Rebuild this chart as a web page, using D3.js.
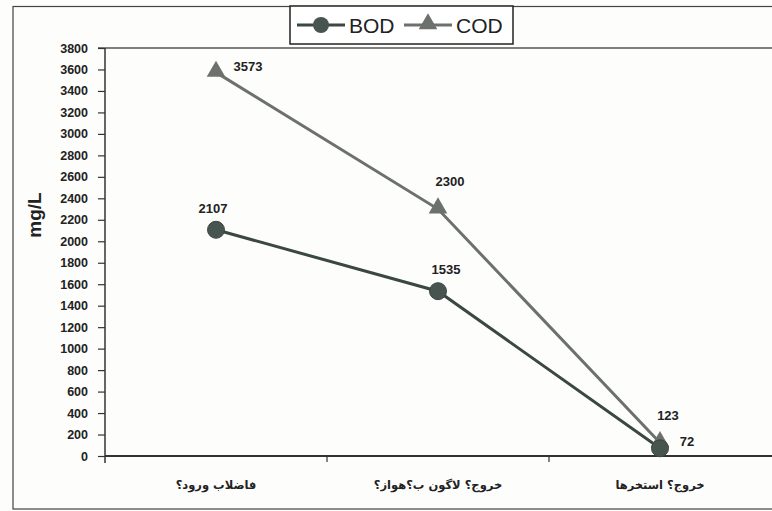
<!DOCTYPE html>
<html><head><meta charset="utf-8">
<script src="https://cdn.jsdelivr.net/npm/d3@7"></script>
<style>
html,body{margin:0;padding:0;background:#fff;}
svg{display:block;}
text{font-family:"Liberation Sans",Arial,"DejaVu Sans",sans-serif;}
</style></head><body>
<script>
const categories = ["فاضلاب ورود؟", "خروج؟ لاگون ب؟هواز؟", "خروج؟ استخرها"];
const bodValues = [2107, 1535, 72];
const codValues = [3573, 2300, 123];
const yTicks = [0,200,400,600,800,1000,1200,1400,1600,1800,2000,2200,2400,2600,2800,3000,3200,3400,3600,3800];
const seriesNames = ["BOD", "COD"];

const W = 772, H = 511;
const svg = d3.select("body").append("svg").attr("width", W).attr("height", H);
svg.append("rect").attr("width", W).attr("height", H).attr("fill", "#fdfdfc");

// outer frame
svg.append("rect").attr("x", 13).attr("y", 6.5).attr("width", 800).attr("height", 502.5)
  .attr("fill", "none").attr("stroke", "#444").attr("stroke-width", 1.2);

const plot = {left: 105, right: 771, top: 48, bottom: 456};
const x = d3.scalePoint().domain(categories).range([plot.left, plot.right]).padding(0.5);
const y = d3.scaleLinear().domain([0, 3800]).range([plot.bottom, plot.top]);

// plot area top border
svg.append("line").attr("x1", 98).attr("x2", W).attr("y1", plot.top).attr("y2", plot.top)
  .attr("stroke", "#555").attr("stroke-width", 1.3);

// y axis
const yAxis = svg.append("g").attr("transform", `translate(${plot.left},0)`)
  .call(d3.axisLeft(y).tickValues(yTicks).tickSize(7).tickPadding(10).tickFormat(d3.format("d")));
yAxis.select(".domain").attr("d", `M0,${plot.top}V${plot.bottom + 7}`).attr("stroke", "#333").attr("stroke-width", 1.5);
yAxis.selectAll(".tick line").attr("stroke", "#333").attr("stroke-width", 1.2);
yAxis.selectAll(".tick text").attr("font-size", 12.5).attr("font-weight", "bold").attr("fill", "#222");

// x axis
const xAxisG = svg.append("g").attr("transform", `translate(0,${plot.bottom})`);
xAxisG.append("line").attr("x1", plot.left).attr("x2", W).attr("stroke", "#333").attr("stroke-width", 2);
const step = x.step();
categories.slice(1).forEach(c => {
  xAxisG.append("line").attr("x1", x(c) - step / 2).attr("x2", x(c) - step / 2)
    .attr("y1", 0).attr("y2", 6).attr("stroke", "#333").attr("stroke-width", 1.2);
});
xAxisG.selectAll("text.cat").data(categories).join("text").attr("class", "cat")
  .attr("x", d => x(d)).attr("y", 33).attr("text-anchor", "middle")
  .attr("font-size", 11.5).attr("font-weight", "bold").attr("fill", "#222")
  .style("font-family", "'DejaVu Sans',sans-serif").attr("direction", "rtl")
  .text(d => d);

// y label
svg.append("text").attr("transform", "translate(41,215) rotate(-90)")
  .attr("text-anchor", "middle").attr("font-size", 19).attr("font-weight", "bold").attr("fill", "#222")
  .text("mg/L");

const bodColor = "#3b4742", codColor = "#6c716e";
const line = d3.line().x((d, i) => x(categories[i])).y(d => y(d));

svg.append("path").datum(codValues).attr("d", line).attr("fill", "none")
  .attr("stroke", codColor).attr("stroke-width", 3);
svg.append("path").datum(bodValues).attr("d", line).attr("fill", "none")
  .attr("stroke", bodColor).attr("stroke-width", 3);

const tri = d3.symbol().type(d3.symbolTriangle).size(150);
svg.selectAll("path.cod").data(codValues).join("path").attr("class", "cod")
  .attr("d", tri).attr("transform", (d, i) => `translate(${x(categories[i])},${y(d) - 1})`)
  .attr("fill", codColor);
svg.selectAll("circle.bod").data(bodValues).join("circle").attr("class", "bod")
  .attr("cx", (d, i) => x(categories[i])).attr("cy", d => y(d)).attr("r", 8.5)
  .attr("fill", "#48544f").attr("stroke", bodColor).attr("stroke-width", 1);

// value labels (offsets are styling)
const codOff = [[32, -1], [12, -23], [8, -23]];
const bodOff = [[-3, -17], [8, -17], [27, -2]];
function labels(vals, off) {
  svg.selectAll(null).data(vals).join("text")
    .attr("x", (d, i) => x(categories[i]) + off[i][0])
    .attr("y", (d, i) => y(d) + off[i][1])
    .attr("text-anchor", "middle").attr("font-size", 13).attr("font-weight", "bold").attr("fill", "#222")
    .text(d => d);
}
labels(codValues, codOff);
labels(bodValues, bodOff);

// legend
const lg = svg.append("g");
lg.append("rect").attr("x", 290).attr("y", 6).attr("width", 223).attr("height", 38)
  .attr("fill", "#fff").attr("stroke", "#222").attr("stroke-width", 1.5);
const items = [{name: seriesNames[0], x0: 297, color: bodColor, shape: "circle"},
               {name: seriesNames[1], x0: 404, color: codColor, shape: "tri"}];
items.forEach(it => {
  lg.append("line").attr("x1", it.x0).attr("x2", it.x0 + 48).attr("y1", 25).attr("y2", 25)
    .attr("stroke", it.color).attr("stroke-width", 3);
  if (it.shape === "circle") {
    lg.append("circle").attr("cx", it.x0 + 24).attr("cy", 25).attr("r", 8).attr("fill", "#48544f");
  } else {
    lg.append("path").attr("d", tri).attr("transform", `translate(${it.x0 + 24},24)`).attr("fill", it.color);
  }
  lg.append("text").attr("x", it.x0 + 52).attr("y", 33).attr("font-size", 21).attr("fill", "#222").text(it.name);
});
</script>
</body></html>
